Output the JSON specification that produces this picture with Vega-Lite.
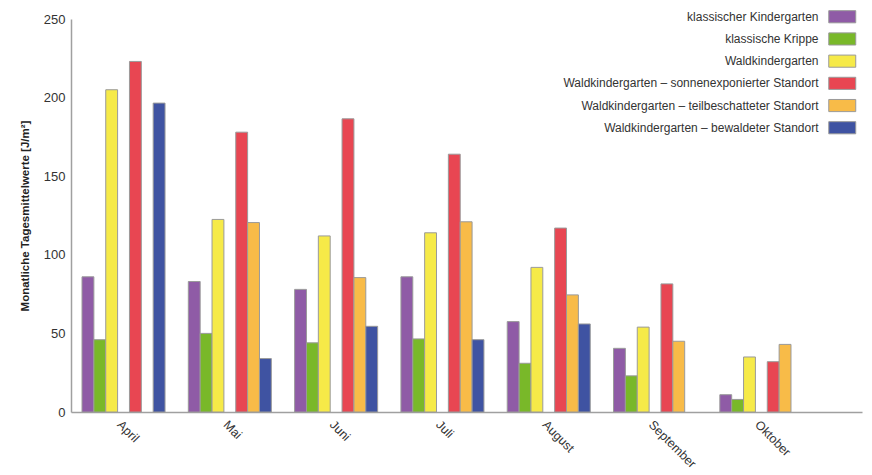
{
  "$schema": "https://vega.github.io/schema/vega-lite/v6.json",
  "description": "Monatliche Tagesmittelwerte je Standort, gruppierte Balken.",
  "autosize": "none",
  "width": 791,
  "height": 393,
  "padding": {"left": 71, "top": 19, "right": 10, "bottom": 63},
  "background": "white",
  "data": {
    "values": [
      {"Monat": "April", "Standort": "klassischer Kindergarten", "Wert": 86},
      {"Monat": "April", "Standort": "klassische Krippe", "Wert": 46},
      {"Monat": "April", "Standort": "Waldkindergarten", "Wert": 205},
      {"Monat": "April", "Standort": "Waldkindergarten – sonnenexponierter Standort", "Wert": 223},
      {"Monat": "April", "Standort": "Waldkindergarten – bewaldeter Standort", "Wert": 196.5},
      {"Monat": "Mai", "Standort": "klassischer Kindergarten", "Wert": 83},
      {"Monat": "Mai", "Standort": "klassische Krippe", "Wert": 50},
      {"Monat": "Mai", "Standort": "Waldkindergarten", "Wert": 122.5},
      {"Monat": "Mai", "Standort": "Waldkindergarten – sonnenexponierter Standort", "Wert": 178},
      {"Monat": "Mai", "Standort": "Waldkindergarten – teilbeschatteter Standort", "Wert": 120.5},
      {"Monat": "Mai", "Standort": "Waldkindergarten – bewaldeter Standort", "Wert": 34},
      {"Monat": "Juni", "Standort": "klassischer Kindergarten", "Wert": 78},
      {"Monat": "Juni", "Standort": "klassische Krippe", "Wert": 44},
      {"Monat": "Juni", "Standort": "Waldkindergarten", "Wert": 112},
      {"Monat": "Juni", "Standort": "Waldkindergarten – sonnenexponierter Standort", "Wert": 186.5},
      {"Monat": "Juni", "Standort": "Waldkindergarten – teilbeschatteter Standort", "Wert": 85.5},
      {"Monat": "Juni", "Standort": "Waldkindergarten – bewaldeter Standort", "Wert": 54.5},
      {"Monat": "Juli", "Standort": "klassischer Kindergarten", "Wert": 86},
      {"Monat": "Juli", "Standort": "klassische Krippe", "Wert": 46.5},
      {"Monat": "Juli", "Standort": "Waldkindergarten", "Wert": 114},
      {"Monat": "Juli", "Standort": "Waldkindergarten – sonnenexponierter Standort", "Wert": 164},
      {"Monat": "Juli", "Standort": "Waldkindergarten – teilbeschatteter Standort", "Wert": 121},
      {"Monat": "Juli", "Standort": "Waldkindergarten – bewaldeter Standort", "Wert": 46},
      {"Monat": "August", "Standort": "klassischer Kindergarten", "Wert": 57.5},
      {"Monat": "August", "Standort": "klassische Krippe", "Wert": 31},
      {"Monat": "August", "Standort": "Waldkindergarten", "Wert": 92},
      {"Monat": "August", "Standort": "Waldkindergarten – sonnenexponierter Standort", "Wert": 117},
      {"Monat": "August", "Standort": "Waldkindergarten – teilbeschatteter Standort", "Wert": 74.5},
      {"Monat": "August", "Standort": "Waldkindergarten – bewaldeter Standort", "Wert": 56},
      {"Monat": "September", "Standort": "klassischer Kindergarten", "Wert": 40.5},
      {"Monat": "September", "Standort": "klassische Krippe", "Wert": 23},
      {"Monat": "September", "Standort": "Waldkindergarten", "Wert": 54},
      {"Monat": "September", "Standort": "Waldkindergarten – sonnenexponierter Standort", "Wert": 81.5},
      {"Monat": "September", "Standort": "Waldkindergarten – teilbeschatteter Standort", "Wert": 45},
      {"Monat": "Oktober", "Standort": "klassischer Kindergarten", "Wert": 11},
      {"Monat": "Oktober", "Standort": "klassische Krippe", "Wert": 8},
      {"Monat": "Oktober", "Standort": "Waldkindergarten", "Wert": 35},
      {"Monat": "Oktober", "Standort": "Waldkindergarten – sonnenexponierter Standort", "Wert": 32},
      {"Monat": "Oktober", "Standort": "Waldkindergarten – teilbeschatteter Standort", "Wert": 43}
    ]
  },
  "mark": {"type": "bar", "stroke": "#9a9a9a", "strokeWidth": 1},
  "encoding": {
    "x": {
      "field": "Monat",
      "type": "nominal",
      "sort": ["April", "Mai", "Juni", "Juli", "August", "September", "Oktober"],
      "scale": {"paddingInner": 0.219, "paddingOuter": 0.33, "align": 0.157},
      "axis": {
        "title": null,
        "labelAngle": 45,
        "ticks": false,
        "labelPadding": 6,
        "domainColor": "#a0a0a0",
        "domainWidth": 1.5,
        "labelFont": "Liberation Sans",
        "labelFontSize": 12.5,
        "labelColor": "#333333"
      }
    },
    "xOffset": {
      "field": "Standort",
      "type": "nominal",
      "scale": {
        "domain": [
          "klassischer Kindergarten",
          "klassische Krippe",
          "Waldkindergarten",
          "",
          "Waldkindergarten – sonnenexponierter Standort",
          "Waldkindergarten – teilbeschatteter Standort",
          "Waldkindergarten – bewaldeter Standort"
        ],
        "paddingInner": 0
      }
    },
    "y": {
      "field": "Wert",
      "type": "quantitative",
      "scale": {"domain": [0, 250], "nice": false},
      "axis": {
        "title": "Monatliche Tagesmittelwerte [J/m²]",
        "titleFont": "Liberation Sans",
        "titleFontSize": 11.5,
        "titleFontWeight": "bold",
        "titleColor": "#222222",
        "titlePadding": 13,
        "values": [0, 50, 100, 150, 200, 250],
        "grid": false,
        "ticks": false,
        "labelPadding": 6,
        "domainColor": "#a0a0a0",
        "domainWidth": 1.5,
        "labelFont": "Liberation Sans",
        "labelFontSize": 13,
        "labelColor": "#333333"
      }
    },
    "color": {
      "field": "Standort",
      "type": "nominal",
      "scale": {
        "domain": [
          "klassischer Kindergarten",
          "klassische Krippe",
          "Waldkindergarten",
          "Waldkindergarten – sonnenexponierter Standort",
          "Waldkindergarten – teilbeschatteter Standort",
          "Waldkindergarten – bewaldeter Standort"
        ],
        "range": ["#8f5ba6", "#79b829", "#f6ea48", "#e84652", "#f8bb48", "#3f53a2"]
      },
      "legend": {
        "title": null,
        "orient": "none",
        "legendX": 763.75,
        "legendY": -9.75,
        "padding": 0,
        "symbolType": "M-2,-0.9H2V0.9H-2Z",
        "symbolSize": 182,
        "symbolStrokeColor": "#9a9a9a",
        "symbolStrokeWidth": 1,
        "symbolOpacity": 1,
        "labelAlign": "right",
        "labelOffset": -31.25,
        "labelFont": "Liberation Sans",
        "labelFontSize": 12,
        "labelColor": "#333333",
        "labelLimit": 400,
        "rowPadding": 5.2
      }
    }
  },
  "config": {"view": {"stroke": null}}
}
